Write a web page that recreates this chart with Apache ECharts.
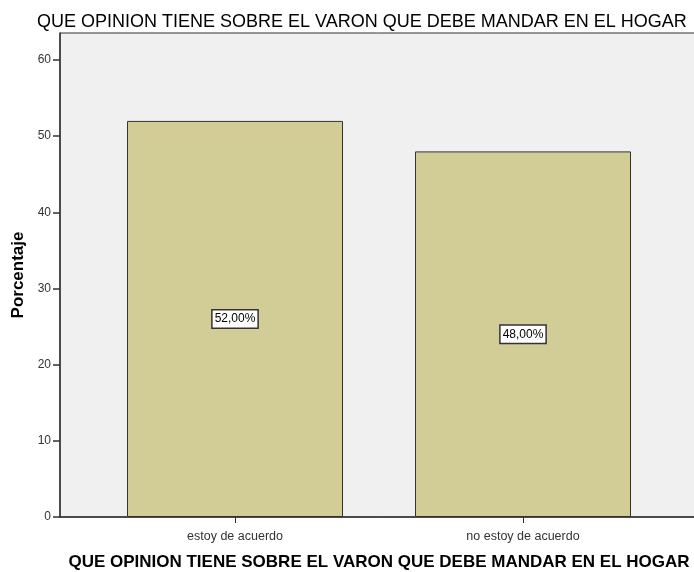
<!DOCTYPE html>
<html>
<head>
<meta charset="utf-8">
<script src="https://cdn.jsdelivr.net/npm/echarts@6/dist/echarts.min.js"></script>
<style>
  * { margin: 0; padding: 0; }
  html, body { width: 694px; height: 572px; background: #fff; overflow: hidden; }
  #chart { width: 694px; height: 572px; }
</style>
</head>
<body>
<div id="chart"></div>
<script>
var titleText = "QUE OPINION TIENE SOBRE EL VARON QUE DEBE MANDAR EN EL HOGAR";
var categories = ["estoy de acuerdo", "no estoy de acuerdo"];
var percentages = [52.0, 48.0];
var yTicks = [0, 10, 20, 30, 40, 50, 60];

var myChart = echarts.init(document.getElementById("chart"), null, { renderer: "canvas" });
var font = "Arial, 'Liberation Sans', sans-serif";

var option = {
  animation: false,
  backgroundColor: "#fff",
  title: {
    text: titleText,
    left: 32,
    top: 8,
    textStyle: { fontFamily: font, fontSize: 18, fontWeight: "normal", color: "#000" }
  },
  grid: [
    // frame/background
    { left: 60, right: -2, top: 33, bottom: 55, show: true, backgroundColor: "#f0f0f0",
      borderColor: "#333", borderWidth: 1, outerBoundsMode: "none", containLabel: false },
    // bars
    { left: 91, width: 576, top: 60, bottom: 55, outerBoundsMode: "none", containLabel: false }
  ],
  xAxis: [
    { gridIndex: 0, type: "value", min: 0, max: 1,
      axisLine: { show: true, lineStyle: { color: "#333", width: 1.5 } },
      axisTick: { show: false }, axisLabel: { show: false }, splitLine: { show: false } },
    { gridIndex: 1, type: "category", data: categories,
      axisLine: { show: false },
      axisTick: { show: true, alignWithLabel: true, length: 6, lineStyle: { color: "#333" } },
      axisLabel: { fontFamily: font, fontSize: 12.5, color: "#333", margin: 13 },
      name: titleText, nameLocation: "middle", nameGap: 37,
      nameTextStyle: { fontFamily: font, fontSize: 17, fontWeight: "bold", color: "#000" } }
  ],
  yAxis: [
    { gridIndex: 0, type: "value", min: 0, max: 1,
      axisLine: { show: true, lineStyle: { color: "#333", width: 1.5 } },
      axisTick: { show: false }, axisLabel: { show: false }, splitLine: { show: false },
      name: "Porcentaje", nameLocation: "middle", nameGap: 33, nameRotate: 90,
      nameTextStyle: { fontFamily: font, fontSize: 17, fontWeight: "bold", color: "#000" } },
    { gridIndex: 1, type: "value", min: yTicks[0], max: yTicks[yTicks.length - 1], interval: 10,
      position: "left", offset: 31,
      axisLine: { show: false },
      axisTick: { show: true, length: 7, lineStyle: { color: "#333", width: 1.5 } },
      axisLabel: { fontFamily: font, fontSize: 12, color: "#333", margin: 9 },
      splitLine: { show: false } }
  ],
  series: [{
    type: "bar",
    xAxisIndex: 1, yAxisIndex: 1,
    data: percentages,
    barWidth: 216,
    itemStyle: { color: "#d2cd96", borderColor: "#333", borderWidth: 1 },
    label: {
      show: true, position: "inside",
      formatter: function (p) { return p.value.toFixed(2).replace(".", ",") + "%"; },
      fontFamily: font, fontSize: 12, color: "#000",
      backgroundColor: "#fff", borderColor: "#333", borderWidth: 1.5, padding: [3, 2, 2, 2]
    }
  }]
};
myChart.setOption(option);
</script>
</body>
</html>
